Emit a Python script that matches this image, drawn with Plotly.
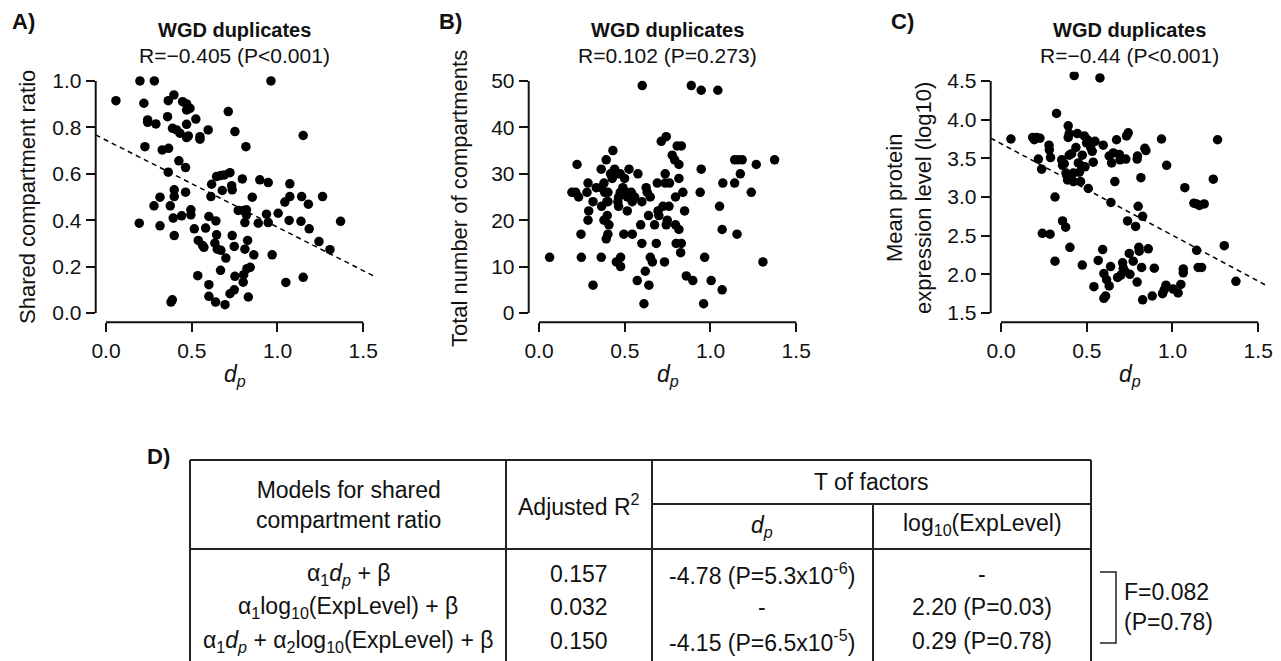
import plotly.graph_objects as go

# ---------------- data ----------------
A_dp = [0.058,0.198,0.282,0.962,0.221,0.243,0.243,0.291,0.227,0.328,
        0.365,0.359,0.363,0.396,0.388,0.412,0.447,0.470,0.490,0.470,
        0.524,0.470,0.431,0.470,0.480,0.548,0.548,0.596,0.713,0.752,
        0.816,1.150,0.425,0.464,0.363,0.398,0.398,0.464,0.315,0.280,
        0.375,0.441,0.392,0.495,0.495,0.194,0.315,0.398,0.515,0.538,
        0.563,0.571,0.581,0.600,0.612,0.616,0.645,0.670,0.690,0.723,
        0.678,0.733,0.736,0.795,0.853,0.771,0.800,0.819,0.819,0.810,
        0.641,0.645,0.635,0.649,0.670,0.699,0.736,0.748,0.826,0.810,
        0.862,0.841,0.822,0.803,0.800,0.752,0.668,0.535,0.600,0.600,
        0.639,0.694,0.723,0.748,0.830,0.387,0.379,0.888,0.897,0.946,
        0.936,0.946,0.969,1.004,1.043,1.072,1.072,1.068,1.049,1.141,
        1.180,1.137,1.185,1.263,1.242,1.306,1.368,1.150]
A_ratio = [0.915,1.0,1.0,1.0,0.904,0.832,0.822,0.815,0.717,0.703,
           0.71,0.846,0.915,0.94,0.796,0.789,0.911,0.901,0.882,0.875,
           0.836,0.813,0.775,0.756,0.763,0.760,0.749,0.789,0.868,0.782,
           0.717,0.765,0.656,0.627,0.607,0.531,0.502,0.521,0.499,0.462,
           0.462,0.419,0.409,0.445,0.423,0.387,0.376,0.334,0.363,0.313,
           0.291,0.283,0.366,0.416,0.502,0.555,0.588,0.593,0.595,0.605,
           0.528,0.549,0.531,0.578,0.499,0.442,0.442,0.445,0.423,0.390,
           0.397,0.337,0.301,0.275,0.270,0.237,0.334,0.287,0.313,0.275,
           0.251,0.197,0.191,0.165,0.133,0.158,0.184,0.161,0.122,0.072,
           0.047,0.036,0.083,0.100,0.069,0.057,0.047,0.387,0.574,0.562,
           0.426,0.390,0.251,0.430,0.478,0.557,0.502,0.399,0.132,0.502,
           0.469,0.395,0.363,0.502,0.308,0.273,0.395,0.154]
A_fit = (0.745, -0.375)   # intercept, slope of dashed regression line

B_dp = [0.062,0.192,0.214,0.222,0.231,0.245,0.247,0.286,0.280,0.290,
        0.286,0.315,0.315,0.334,0.363,0.363,0.363,0.365,0.379,0.379,
        0.383,0.392,0.396,0.402,0.398,0.402,0.392,0.408,0.402,0.417,
        0.427,0.431,0.441,0.451,0.460,0.464,0.464,0.460,0.476,0.476,
        0.474,0.474,0.489,0.495,0.499,0.509,0.515,0.515,0.525,0.528,
        0.538,0.544,0.544,0.558,0.573,0.577,0.593,0.600,0.600,0.602,
        0.612,0.620,0.625,0.631,0.639,0.641,0.649,0.649,0.661,0.674,
        0.684,0.690,0.694,0.699,0.713,0.723,0.732,0.736,0.736,0.742,
        0.742,0.748,0.758,0.761,0.777,0.791,0.796,0.796,0.806,0.816,
        0.816,0.816,0.830,0.800,0.830,0.826,0.839,0.849,0.859,0.888,
        0.897,0.946,0.946,0.940,0.960,0.966,1.004,1.043,1.053,1.068,
        1.072,1.068,1.141,1.141,1.155,1.161,1.174,1.185,1.238,1.267,
        1.306,1.374]
B_total = [12,26,26,32,25,17,12,28,26,22,
           20,24,6,27,31,12,27,23,28,20,
           26,33,24,26,21,17,16,19,24,30,
           29,35,31,11,30,25,23,24,12,10,
           26,30,27,17,29,26,22,25,31,25,
           26,24,17,25,7,30,19,24,15,49,
           2,9,27,26,21,6,25,12,11,19,
           15,28,22,21,37,23,11,30,28,38,
           19,20,23,28,34,33,25,19,36,32,
           29,18,36,15,15,13,26,22,8,49,
           7,31,48,26,2,12,7,48,23,18,
           28,5,28,33,17,33,30,33,26,32,
           11,33]

C_dp = [0.058,0.185,0.194,0.208,0.227,0.218,0.237,0.241,0.286,0.280,
        0.282,0.289,0.315,0.324,0.315,0.359,0.377,0.354,0.359,0.369,
        0.379,0.392,0.398,0.392,0.398,0.388,0.402,0.412,0.422,0.422,
        0.427,0.437,0.445,0.451,0.457,0.464,0.470,0.474,0.474,0.486,
        0.490,0.499,0.505,0.509,0.523,0.532,0.538,0.548,0.542,0.577,
        0.567,0.593,0.596,0.600,0.600,0.610,0.616,0.631,0.639,0.641,
        0.631,0.645,0.655,0.664,0.674,0.680,0.690,0.694,0.699,0.709,
        0.713,0.723,0.728,0.732,0.742,0.738,0.748,0.752,0.771,0.785,
        0.794,0.796,0.800,0.794,0.804,0.806,0.816,0.820,0.826,0.826,
        0.839,0.845,0.859,0.894,0.882,0.936,0.942,0.952,0.962,0.966,
        1.004,1.033,1.049,1.063,1.063,1.072,1.125,1.141,1.157,1.141,
        1.150,1.170,1.185,1.238,1.263,1.302,1.370]
C_exp = [3.75,3.77,3.74,3.77,3.76,3.49,3.36,2.53,2.52,3.67,
         3.61,3.51,3.00,4.08,2.17,2.69,2.61,3.48,3.41,3.43,
         3.31,3.77,3.82,3.92,3.54,3.22,2.35,3.56,3.31,3.20,
         4.57,3.64,3.82,3.44,3.32,3.20,3.40,3.54,2.12,3.79,
         3.39,3.70,3.74,3.11,3.64,3.59,3.45,3.72,1.84,4.54,
         2.18,2.32,3.67,2.01,1.69,1.72,1.93,1.85,2.10,2.93,
         3.53,3.44,3.57,3.20,3.74,1.96,3.55,3.48,1.99,2.15,
         2.08,2.04,3.49,3.79,3.83,2.69,2.27,2.00,2.17,2.62,
         3.49,3.53,2.88,1.90,2.35,2.30,3.25,2.09,2.75,1.67,
         3.63,3.60,2.33,2.08,1.72,3.75,1.75,1.80,1.86,3.41,
         1.81,1.76,1.87,2.02,2.07,3.12,2.92,2.91,2.89,2.31,
         2.09,2.09,2.91,3.23,3.74,2.37,1.91]
C_fit = (3.69, -1.185)

x_ticks = [0.0, 0.5, 1.0, 1.5]
A_yticks = [0.0, 0.2, 0.4, 0.6, 0.8, 1.0]
B_yticks = [0, 10, 20, 30, 40, 50]
C_yticks = [1.5, 2.0, 2.5, 3.0, 3.5, 4.0, 4.5]

titles = ["R=\u22120.405 (P<0.001)", "R=0.102 (P=0.273)", "R=\u22120.44 (P<0.001)"]
y_titles = ["Shared compartment ratio", "Total number of compartments",
            "Mean protein<br>expression level (log10)"]

table_header_models = "Models for shared<br>compartment ratio"
table_models = ["\u03b1<sub>1</sub><i>d<sub>p</sub></i> + \u03b2",
                "\u03b1<sub>1</sub>log<sub>10</sub>(ExpLevel) + \u03b2",
                "\u03b1<sub>1</sub><i>d<sub>p</sub></i> + \u03b1<sub>2</sub>log<sub>10</sub>(ExpLevel) + \u03b2"]
table_adjR2 = ["0.157", "0.032", "0.150"]
table_T_dp = ["-4.78 (P=5.3x10<sup>-6</sup>)", "-", "-4.15 (P=6.5x10<sup>-5</sup>)"]
table_T_exp = ["-", "2.20 (P=0.03)", "0.29 (P=0.78)"]
f_test = "F=0.082<br>(P=0.78)"

# ---------------- layout helpers ----------------
W, H = 1281, 661
FONT = "Liberation Sans, Arial, Helvetica, sans-serif"
INK = "#111111"

def px(x):
    return x / W

def py(y):
    return 1 - y / H

fig = go.Figure()

panels = [
    dict(x=A_dp, y=A_ratio, left=95.7, yr=[-0.04, 1.04], yt=A_yticks, fmt=".1f", fit=A_fit),
    dict(x=B_dp, y=B_total, left=528.7, yr=[-2, 52], yt=B_yticks, fmt="d", fit=None),
    dict(x=C_dp, y=C_exp, left=990.7, yr=[1.38, 4.62], yt=C_yticks, fmt=".1f", fit=C_fit),
]
plot_w = 277.8
top_px, bot_px = 71.7, 322.3
xr = [-0.06, 1.56]

annotations = []
shapes = []
for i, p in enumerate(panels):
    sfx = "" if i == 0 else str(i + 1)
    xa, ya = "x" + sfx, "y" + sfx
    fig.add_trace(go.Scatter(x=p["x"], y=p["y"], mode="markers", xaxis=xa, yaxis=ya,
                             marker=dict(size=9.5, color="black", line=dict(width=0)),
                             showlegend=False, hoverinfo="skip"))
    if p["fit"] is not None:
        b0, b1 = p["fit"]
        fig.add_trace(go.Scatter(x=xr, y=[b0 + b1 * xr[0], b0 + b1 * xr[1]], mode="lines",
                                 xaxis=xa, yaxis=ya, showlegend=False, hoverinfo="skip",
                                 line=dict(color="black", width=1.5, dash="5px,4px")))
    dom = [px(p["left"]), px(p["left"] + plot_w)]
    axkw = dict(showgrid=False, zeroline=False, showline=False, ticks="outside",
                ticklen=9, tickwidth=2, tickcolor=INK,
                tickfont=dict(family=FONT, size=21, color=INK))
    fig.update_layout(**{
        ("xaxis" + sfx): dict(domain=dom, range=xr, tickvals=x_ticks, tickformat=".1f",
                              anchor=ya, **axkw),
        ("yaxis" + sfx): dict(domain=[py(bot_px), py(top_px)], range=p["yr"], tickvals=p["yt"],
                              tickformat=p["fmt"], anchor=xa, **axkw),
    })
    shapes.append(dict(type="line", xref=xa, yref=ya + " domain", x0=0, x1=1.5, y0=0, y1=0,
                       line=dict(color=INK, width=2)))
    shapes.append(dict(type="line", xref=xa + " domain", yref=ya, x0=0, x1=0,
                       y0=p["yt"][0], y1=p["yt"][-1], line=dict(color=INK, width=2)))
    cx = p["left"] + plot_w / 2
    annotations.append(dict(x=px(cx), y=py(30), text="<b>WGD duplicates</b>",
                            font=dict(family=FONT, size=20, color=INK)))
    annotations.append(dict(x=px(cx), y=py(56), text=titles[i],
                            font=dict(family=FONT, size=21, color=INK)))
    annotations.append(dict(x=px(cx), y=py(375), text="<i>d<sub>p</sub></i>",
                            font=dict(family=FONT, size=23, color=INK)))

# y axis titles
annotations.append(dict(x=px(27), y=py(197), text=y_titles[0], textangle=-90,
                        font=dict(family=FONT, size=22, color=INK)))
annotations.append(dict(x=px(459), y=py(199), text=y_titles[1], textangle=-90,
                        font=dict(family=FONT, size=22, color=INK)))
annotations.append(dict(x=px(909), y=py(198), text=y_titles[2], textangle=-90,
                        font=dict(family=FONT, size=22, color=INK)))

# panel labels
for lab, (lx, ly) in zip(["A)", "B)", "C)", "D)"], [(23, 22), (450, 22), (902, 22), (158, 456)]):
    annotations.append(dict(x=px(lx), y=py(ly), text="<b>" + lab + "</b>",
                            font=dict(family=FONT, size=22, color=INK)))

# ---------------- table D ----------------
tl = dict(color="#222222", width=2)
def hline(x0, x1, y):
    shapes.append(dict(type="line", xref="paper", yref="paper", x0=px(x0), x1=px(x1),
                       y0=py(y), y1=py(y), line=tl))
def vline(x, y0, y1):
    shapes.append(dict(type="line", xref="paper", yref="paper", x0=px(x), x1=px(x),
                       y0=py(y0), y1=py(y1), line=tl))

hline(190, 1091, 460)
hline(652, 1091, 504)
hline(190, 1091, 549)
for vx in [190, 506, 652, 1091]:
    vline(vx, 460, 661)
vline(873, 504, 661)
# bracket for F-test
shapes.append(dict(type="path", xref="paper", yref="paper",
                   path="M {} {} L {} {} L {} {} L {} {}".format(
                       px(1100), py(572), px(1116), py(572), px(1116), py(643), px(1100), py(643)),
                   line=dict(color="#222222", width=1.5)))

tf = dict(family=FONT, size=23, color=INK)
annotations.append(dict(x=px(348), y=py(505), text=table_header_models, font=tf))
annotations.append(dict(x=px(579), y=py(505), text="Adjusted R<sup>2</sup>", font=tf))
annotations.append(dict(x=px(871.5), y=py(482), text="T of factors", font=tf))
annotations.append(dict(x=px(762), y=py(526), text="<i>d<sub>p</sub></i>", font=tf))
annotations.append(dict(x=px(982), y=py(524), text="log<sub>10</sub>(ExpLevel)", font=tf))
row_y = [574, 607, 641]
for r in range(3):
    annotations.append(dict(x=px(348), y=py(row_y[r]), text=table_models[r], font=tf))
    annotations.append(dict(x=px(579), y=py(row_y[r]), text=table_adjR2[r], font=tf))
    annotations.append(dict(x=px(762), y=py(row_y[r]), text=table_T_dp[r], font=tf))
    annotations.append(dict(x=px(982), y=py(row_y[r]), text=table_T_exp[r], font=tf))
annotations.append(dict(x=px(1122), y=py(607), text=f_test, xanchor="left", align="left", font=tf))

for a in annotations:
    a.setdefault("xref", "paper")
    a.setdefault("yref", "paper")
    a.setdefault("showarrow", False)
    a.setdefault("xanchor", "center")
    a.setdefault("yanchor", "middle")

fig.update_layout(
    template="none",
    width=W, height=H,
    margin=dict(l=0, r=0, t=0, b=0, autoexpand=False),
    paper_bgcolor="white", plot_bgcolor="white",
    font=dict(family=FONT, color=INK),
    shapes=shapes, annotations=annotations,
    showlegend=False,
)

fig.write_html("out.html", config={"displayModeBar": False},
               post_script="document.body.style.margin='0';document.body.style.overflow='hidden';")
